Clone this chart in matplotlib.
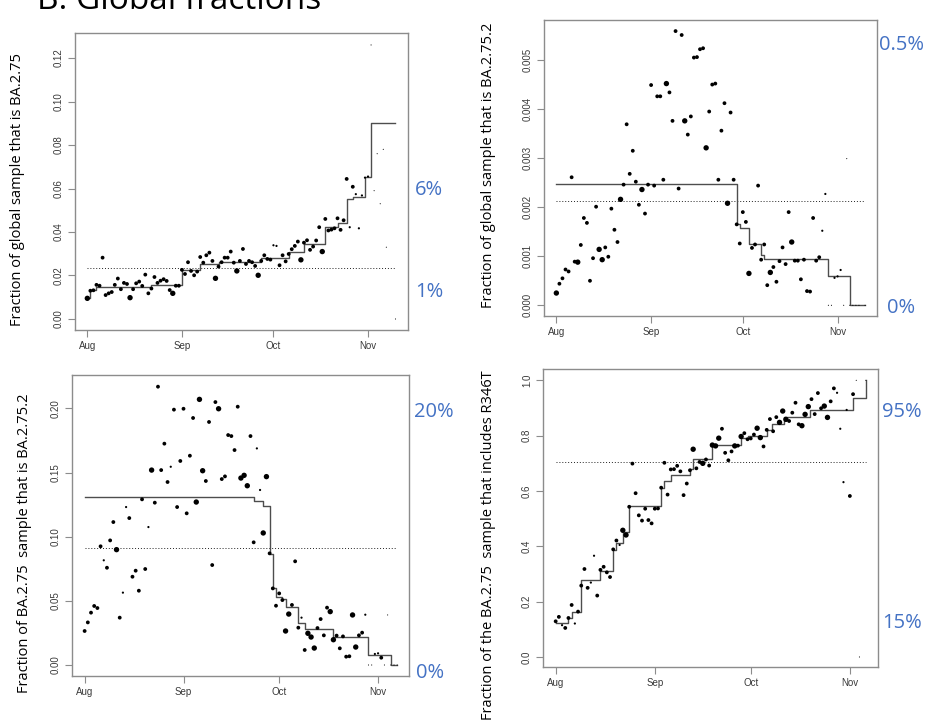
import matplotlib.pyplot as plt
import numpy as np

nan = np.nan

# values, one entry per day starting 1 Aug
# --- top left: fraction of global sample that is BA.2.75
p1_frac = [0.0095, 0.0130, 0.0132, 0.0157, 0.0153, 0.0282, 0.0110, 0.0118, 0.0124, 0.0157,
           0.0186, 0.0137, 0.0166, 0.0161, 0.0098, 0.0137, 0.0164, 0.0172, 0.0152, 0.0204,
           0.0118, 0.0140, 0.0193, 0.0166, 0.0176, 0.0183, 0.0175, 0.0133, 0.0118, 0.0153,
           0.0153, 0.0226, 0.0207, 0.0261, 0.0221, 0.0201, 0.0218, 0.0285, 0.0259, 0.0293,
           0.0305, 0.0267, 0.0187, 0.0241, 0.0261, 0.0282, 0.0282, 0.0310, 0.0259, 0.0221,
           0.0267, 0.0322, 0.0253, 0.0267, 0.0261, 0.0244, 0.0201, 0.0267, 0.0293, 0.0276,
           0.0273, 0.0339, 0.0336, 0.0247, 0.0293, 0.0265, 0.0299, 0.0321, 0.0336, 0.0356,
           0.0272, 0.0351, 0.0362, 0.0318, 0.0333, 0.0361, 0.0422, 0.0310, 0.0460, 0.0407,
           0.0411, 0.0417, 0.0463, 0.0410, 0.0454, 0.0644, 0.0422, 0.0608, 0.0574, 0.0417,
           0.0568, 0.0650, 0.0655, 0.1260, 0.0590, 0.0760, 0.0530, 0.0780, 0.0330, nan,
           nan, 0.0]
p1_big = [0, 14, 28, 42, 49, 56, 70, 77]
p1_small = [61, 62, 86, 88, 89, 90, 91, 92]
p1_tiny = [93, 94, 95, 96, 97, 98, 101]
p1_step_x = [0, 1, 3, 21, 31, 37, 43, 57, 66, 71, 78, 82, 85, 87, 91, 93, 101]
p1_step_y = [0.0095, 0.0134, 0.0148, 0.0157, 0.0226, 0.0252, 0.0261, 0.0280, 0.0307,
             0.0344, 0.0425, 0.0440, 0.0551, 0.0559, 0.0652, 0.0900]
p1_mean = 0.0233

# --- top right: fraction of global sample that is BA.2.75.2
p2_frac = [0.00025, 0.00044, 0.00055, 0.00073, 0.00069, 0.00261, 0.00089, 0.00088, 0.00123, 0.00178,
           0.00168, 0.00050, 0.00096, 0.00201, 0.00114, 0.00093, 0.00118, 0.00099, 0.00197, 0.00154,
           0.00129, 0.00216, 0.00246, 0.00369, 0.00268, 0.00315, 0.00252, 0.00205, 0.00236, 0.00187,
           0.00246, 0.00449, 0.00244, 0.00426, 0.00426, 0.00256, 0.00452, 0.00434, 0.00376, 0.00559,
           0.00238, 0.00551, 0.00376, 0.00348, 0.00385, 0.00505, 0.00506, 0.00522, 0.00524, 0.00321,
           0.00395, 0.00450, 0.00452, 0.00256, 0.00356, 0.00412, 0.00208, 0.00393, 0.00256, 0.00165,
           0.00126, 0.00190, 0.00170, 0.00065, 0.00117, 0.00124, 0.00244, 0.00093, 0.00124, 0.00041,
           0.00067, 0.00078, 0.00048, 0.00090, 0.00118, 0.00084, 0.00190, 0.00129, 0.00091, 0.00091,
           0.00053, 0.00093, 0.00029, 0.00028, 0.00178, 0.00091, 0.00098, 0.00152, 0.00227, 0.0,
           0.0, 0.00056, 0.00059, 0.00072, 0.0, 0.00299, 0.0, 0.0, 0.0, 0.0,
           nan, 0.0]
p2_big = [0, 7, 14, 15, 21, 28, 36, 42, 49, 56, 63, 70, 77]
p2_small = [87, 88, 91, 92, 93]
p2_tiny = [89, 90, 94, 95, 96, 97, 98, 99, 101]
p2_step_x = [0, 59, 60, 63, 67, 68, 89, 96, 101]
p2_step_y = [0.00247, 0.00165, 0.00158, 0.00125, 0.00103, 0.00095, 0.00059, 0.00001]
p2_mean = 0.00212

# --- bottom left: fraction of BA.2.75 sample that is BA.2.75.2
p3_frac = [0.0265, 0.0332, 0.0408, 0.0460, 0.0444, 0.0925, 0.0816, 0.0758, 0.0971, 0.1114,
           0.0899, 0.0369, 0.0564, 0.1231, 0.1145, 0.0688, 0.0735, 0.0579, 0.1291, 0.0748,
           0.1075, 0.1519, 0.1265, 0.2169, 0.1519, 0.1725, 0.1426, 0.1545, 0.1990, 0.1231,
           0.1590, 0.1997, 0.1182, 0.1631, 0.1925, 0.1270, 0.2070, 0.1514, 0.1434, 0.1894,
           0.0779, 0.2049, 0.1997, 0.1449, 0.1470, 0.1792, 0.1784, 0.1675, 0.2013, 0.1457,
           0.1478, 0.1397, 0.1784, 0.0956, 0.1688, 0.1364, 0.1029, 0.1468, 0.0870, 0.0597,
           0.0462, 0.0558, 0.0506, 0.0265, 0.0397, 0.0468, 0.0808, 0.0291, 0.0369, 0.0117,
           0.0247, 0.0218, 0.0132, 0.0288, 0.0358, 0.0231, 0.0447, 0.0416, 0.0197, 0.0229,
           0.0130, 0.0223, 0.0065, 0.0068, 0.0390, 0.0140, 0.0231, 0.0252, 0.0392, 0.0,
           0.0, 0.0086, 0.0091, 0.0057, 0.0, 0.0390, 0.0, 0.0, 0.0]
p3_big = [10, 21, 35, 36, 37, 42, 49, 50, 51, 56, 57, 63, 64, 70, 71, 72, 77, 78, 84, 85]
p3_small = [6, 12, 13, 20, 27, 54, 55, 68, 88, 91, 92]
p3_tiny = [89, 90, 94, 95, 96, 97, 98]
p3_step_x = [0, 53, 56, 58, 59, 60, 62, 63, 67, 69, 78, 89, 96, 98]
p3_step_y = [0.1312, 0.1275, 0.1240, 0.0862, 0.0597, 0.0532, 0.0512, 0.0455, 0.0325,
             0.0280, 0.0216, 0.0080, 0.0]
p3_mean = 0.0909

# --- bottom right: fraction of BA.2.75 sample that includes R346T
p4_frac = [0.129, 0.145, 0.115, 0.105, 0.141, 0.188, 0.121, 0.164, 0.258, 0.318,
           0.250, 0.269, 0.366, 0.222, 0.315, 0.326, 0.306, 0.289, 0.389, 0.421,
           0.405, 0.458, 0.441, 0.543, 0.699, 0.592, 0.512, 0.493, 0.536, 0.495,
           0.483, 0.536, 0.537, 0.612, 0.702, 0.587, 0.678, 0.679, 0.691, 0.671,
           0.585, 0.627, 0.675, 0.751, 0.682, 0.705, 0.700, 0.714, 0.692, 0.766,
           0.763, 0.791, 0.825, 0.738, 0.711, 0.743, 0.763, 0.764, 0.797, 0.809,
           0.787, 0.790, 0.804, 0.827, 0.793, 0.761, 0.821, 0.860, 0.816, 0.867,
           0.848, 0.889, 0.859, 0.853, 0.883, 0.919, 0.841, 0.836, 0.877, 0.905,
           0.932, 0.878, 0.954, 0.899, 0.907, 0.866, 0.924, 0.971, 0.955, 0.825,
           0.632, 0.893, 0.582, 0.950, 1.0, 0.0, nan, 1.0]
p4_big = [21, 22, 43, 46, 49, 50, 51, 56, 58, 63, 64, 70, 71, 72, 77, 78, 79, 84, 85]
p4_small = [2, 6, 11, 12, 20, 88, 89, 90, 91]
p4_tiny = [94, 95, 97]
p4_step_x = [0, 4, 5, 8, 14, 18, 19, 21, 23, 33, 34, 36, 42, 43, 49, 58, 60, 66, 67.5,
             71.5, 79.5, 93, 97, 97]
p4_step_y = [0.124, 0.1425, 0.164, 0.279, 0.312, 0.388, 0.412, 0.450, 0.545, 0.612, 0.635,
             0.659, 0.680, 0.714, 0.767, 0.791, 0.800, 0.821, 0.843, 0.867, 0.891, 0.936, 1.0]
p4_mean = 0.704

month_days = [0, 31, 61, 92]
month_labels = ["Aug", "Sep", "Oct", "Nov"]

W, H = 926, 728
GRAY = "#8c8c8c"
BLUE = "#4472c4"
CAL = ["Open Sans", "DejaVu Sans"]


def px_box(left, top, right, bottom):
    return [left / W, 1 - bottom / H, (right - left) / W, (bottom - top) / H]


def panel(ax, frac, big, small, tiny, sx, sy, mean, xlim, ylim, yticks, yfmt):
    frac = np.array(frac, dtype=float)
    days = np.arange(len(frac))
    sizes = np.full(len(frac), 7.5)
    sizes[big] = 15
    sizes[small] = 2.5
    sizes[tiny] = 0.6
    ok = ~np.isnan(frac)
    ax.scatter(days[ok], frac[ok], s=sizes[ok], c="black", edgecolors="none", zorder=3)
    # R-style step line (type="s")
    ax.step(sx, list(sy) + [sy[-1]], where="post", color="#4d4d4d", lw=1.0, zorder=2)
    ax.plot([0, days[-1]], [mean, mean], color="#222222", lw=0.7, ls=(0, (1, 2)), zorder=1)
    ax.set_xlim(*xlim)
    ax.set_ylim(*ylim)
    ax.set_xticks(month_days)
    ax.set_xticklabels(month_labels)
    ax.set_yticks(yticks)
    ax.set_yticklabels([yfmt.format(v) for v in yticks], rotation=90, va="center")
    for sp in ax.spines.values():
        sp.set_color(GRAY)
        sp.set_linewidth(1.0)
    ax.tick_params(length=5, width=0.8, color=GRAY, labelsize=7, labelcolor="#3a3a3a", pad=3)
    for lab in ax.get_xticklabels() + ax.get_yticklabels():
        lab.set_family("Liberation Sans")


plt.rcParams["font.family"] = CAL
fig = plt.figure(figsize=(W / 100, H / 100), dpi=100)

ax1 = fig.add_axes(px_box(75, 33, 408, 330))
panel(ax1, p1_frac, p1_big, p1_small, p1_tiny, p1_step_x, p1_step_y, p1_mean,
      (-4.04, 105.1), (-0.00506, 0.1315), np.arange(0, 0.121, 0.02), "{:.2f}")

ax2 = fig.add_axes(px_box(544, 20, 877, 316))
panel(ax2, p2_frac, p2_big, p2_small, p2_tiny, p2_step_x, p2_step_y, p2_mean,
      (-4.04, 104.9), (-0.000218, 0.005816), np.arange(0, 0.00501, 0.001), "{:.3f}")

ax3 = fig.add_axes(px_box(72, 375, 409, 676))
panel(ax3, p3_frac, p3_big, p3_small, p3_tiny, p3_step_x, p3_step_y, p3_mean,
      (-3.96, 101.7), (-0.00857, 0.226), np.arange(0, 0.201, 0.05), "{:.2f}")

ax4 = fig.add_axes(px_box(543, 369, 878, 667))
panel(ax4, p4_frac, p4_big, p4_small, p4_tiny, p4_step_x, p4_step_y, p4_mean,
      (-3.96, 100.8), (-0.0362, 1.041), np.arange(0, 1.01, 0.2), "{:.1f}")

# axis titles (added on top of the R plots, hence the different font)
ylabs = [("Fraction of global sample that is BA.2.75", 18, 190),
         ("Fraction of global sample that is BA.2.75.2", 488, 165),
         ("Fraction of BA.2.75  sample that is BA.2.75.2", 25, 543),
         ("Fraction of the BA.2.75  sample that includes R346T", 488, 545)]
for txt, x, y in ylabs:
    fig.text(x / W, 1 - y / H, txt, rotation=90, ha="center", va="center",
             fontsize=10.5, color="black")

# blue range annotations
notes = [("6%", 415, 190), ("1%", 415, 292), ("0.5%", 879, 45), ("0%", 887, 308),
         ("20%", 414, 412), ("0%", 416, 673), ("95%", 882, 412), ("15%", 882, 623)]
for txt, x, y in notes:
    fig.text(x / W, 1 - y / H, txt, ha="left", va="center", fontsize=14.5, color=BLUE)

# the panel title sits partly above the top edge, as in the original slide
fig.text(37 / W, 1 - 9 / H, "B. Global fractions", ha="left", va="baseline", fontsize=24)

fig.savefig("out.png", dpi=100)
